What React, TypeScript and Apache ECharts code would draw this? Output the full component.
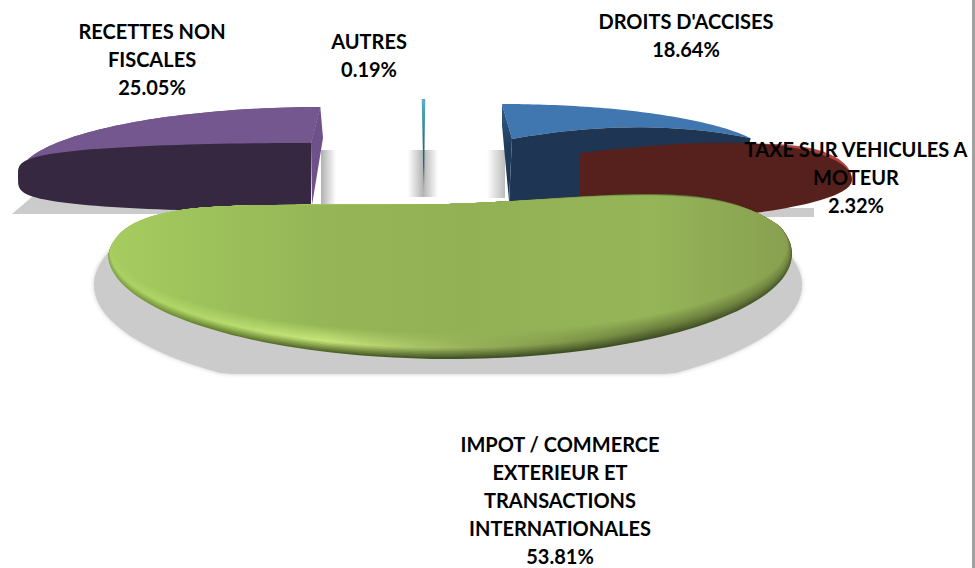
import React, { useEffect, useRef } from "react";
import * as echarts from "echarts";

// Chart data: pie order, clockwise from 12 o'clock
const categories = ["DROITS D'ACCISES", "TAXE SUR VEHICULES A MOTEUR", "IMPOT / COMMERCE EXTERIEUR ET TRANSACTIONS INTERNATIONALES", "RECETTES NON FISCALES", "AUTRES"];
const values = [18.64, 2.32, 53.81, 25.05, 0.19];
const labelLines = [["DROITS D'ACCISES"], ["TAXE SUR VEHICULES A", "MOTEUR"], ["IMPOT / COMMERCE", "EXTERIEUR ET", "TRANSACTIONS", "INTERNATIONALES"], ["RECETTES NON", "FISCALES"], ["AUTRES"]];

const total = values.reduce((a, b) => a + b, 0);
const startAngles = values.map((_, i) => (values.slice(0, i).reduce((a, b) => a + b, 0) / total) * 360);
const rad = (d: number) => (d * Math.PI) / 180;

type Pt = [number, number];
// rim point, angle clockwise from 12 o'clock
const ell = (cx: number, cy: number, rx: number, ry: number, t: number): Pt => [cx + rx * Math.sin(rad(t)), cy - ry * Math.cos(rad(t))];
const rim = (cx: number, cy: number, rx: number, ry: number, a0: number, a1: number, n = 60): Pt[] => {
  const out: Pt[] = [];
  for (let i = 0; i <= n; i++) out.push(ell(cx, cy, rx, ry, a0 + ((a1 - a0) * i) / n));
  return out;
};
const d = (pts: Pt[], close = true) => "M" + pts.map((p) => p[0].toFixed(1) + " " + p[1].toFixed(1)).join("L") + (close ? "Z" : "");
const grad = (x2: number, y2: number, stops: [number, string][], x = 0, y = 0) => ({ type: "linear", x, y, x2, y2, colorStops: stops.map(([offset, color]) => ({ offset, color })) });
const path = (pathData: string, style: any, extra: any = {}) => ({ type: "path", shape: { pathData }, style, ...extra });
const softRect = (x: number, y: number, width: number, height: number, fill: any) => ({ type: "rect", shape: { x, y, width, height }, style: { fill } });

const GREY = "#cbcbcb";

// superellipse quarter going from the tip of a dark face to the top of its straight edge
const quarter = (cx: number, cy: number, rx: number, ry: number, dir: number, p: number, skew = 0): Pt[] => {
  const out: Pt[] = [];
  for (let i = 0; i <= 40; i++) {
    const a = (i / 40) * 90;
    out.push([cx + dir * rx * Math.cos(rad(a)), cy - ry * Math.pow(Math.sin(rad(a)), p) - skew * Math.sin(rad(2 * a))]);
  }
  return out;
};

function drawDroits(a0: number, a1: number) {
  const r = rim(502, 160, 270, 56, a0, a1);
  const tip = r[r.length - 1];
  const apex: Pt = [512, 139];
  const edge: Pt[] = [];
  for (let i = 0; i <= 30; i++) {
    const t = i / 30;
    edge.push([(1 - t) * (1 - t) * apex[0] + 2 * t * (1 - t) * 640 + t * t * tip[0], (1 - t) * (1 - t) * apex[1] + 2 * t * (1 - t) * 116 + t * t * tip[1]]);
  }
  return [
    softRect(487, 150, 18, 48, grad(1, 0, [[0, "#ffffff"], [1, "#bcbcbc"]])),
    path(d([...r, ...edge.slice().reverse()]), { fill: "#4177b0" }),
    path(d([r[0], [502, 125], [509, 201], apex]), { fill: grad(0, 1, [[0, "#2f5f90"], [0.45, "#1f3a5a"], [1, "#1e3553"]]) }),
    path(d([...edge, [tip[0] - 20, 215], [509, 204]]), { fill: "#1e3553" }),
  ];
}

function drawTaxe() {
  // the slice sits in front of the others and is strongly magnified by the perspective
  const top = quarter(580, 180, 272, 27, 1, 1, 16).reverse();
  const bottom = quarter(580, 180, 272, 43, 1, 1).map(([x, y]) => [x, 360 - y] as Pt);
  const lip = top.slice(18).map(([x, y], i, arr) => [x, y - 3.5 * Math.sin((i / (arr.length - 1)) * Math.PI)] as Pt);
  return [
    softRect(758, 208, 56, 9, GREY),
    path(d(lip), { fill: "#b3453f" }),
    path(d([...top, ...bottom]), { fill: "#56211d" }),
  ];
}

const greenPath = (a0: number, a1: number) => {
  const pts = rim(450, 254, 342, 105, a0, a1, 90);
  const first = pts[0];
  return d(pts, false) +
    ` C112 228 150 214 190 209 C260 202 370 206 448 204 C520 202 590 194 646 194 C700 194 745 200 ${first[0].toFixed(1)} ${first[1].toFixed(1)}Z`;
};

const hex = (c: string) => [1, 3, 5].map((k) => parseInt(c.slice(k, k + 2), 16));
const mix = (a: string, b: string, t: number) => {
  const A = hex(a);
  const B = hex(b);
  return "rgb(" + A.map((v, i) => Math.round(v + (B[i] - v) * t)).join(",") + ")";
};
// bevel colours from the outer edge, through the highlight, to the face, across the slice
const bevelStops: [number, string, string, string][] = [
  [0, "#80a046", "#a9d062", "#a6cc60"],
  [0.14, "#66832f", "#b4d96a", "#9dc15b"],
  [0.32, "#4f6428", "#c6e67a", "#95b556"],
  [0.52, "#3f5024", "#98b35a", "#92b155"],
  [0.8, "#3f4f25", "#6d813d", "#95b558"],
  [1, "#4a5a2c", "#6f8340", "#88a050"],
];
const LAYERS = 18;
const HIGHLIGHT_AT = 0.4;

function drawImpot(a0: number, a1: number) {
  const shade = rim(448, 285, 354, 115, 60, 300, 90).map(([x, y]) => [x, Math.min(y, 374)] as Pt);
  const outline = greenPath(a0, a1);
  const layers = [];
  for (let k = 0; k < LAYERS; k++) {
    const t = k / (LAYERS - 1);
    const stops = bevelStops.map(([o, outer, high, face]) => {
      const c = t < HIGHLIGHT_AT ? mix(outer, high, t / HIGHLIGHT_AT) : mix(high, face, (t - HIGHLIGHT_AT) / (1 - HIGHLIGHT_AT));
      return [o, c] as [number, string];
    });
    layers.push(
      path(outline, { fill: grad(1, 0, stops) }, {
        originX: 450,
        originY: 205,
        scaleX: 1 - 0.014 * t,
        scaleY: 1 - 0.17 * t,
      })
    );
  }
  return [path(d(shade), { fill: GREY, shadowBlur: 4, shadowColor: GREY }), ...layers];
}

function drawRecettes(a0: number, a1: number) {
  const r = rim(324, 177, 306, 70, a0, a1);
  const apex: Pt = [311, 143];
  const top = quarter(311, 177, 293, 34, -1, 0.5).reverse();
  const bottom = quarter(311, 177, 293, 35, -1, 0.5).map(([x, y]) => [x, 354 - y] as Pt);
  return [
    path(d([[33, 196], [212, 196], [212, 214], [12, 214]]), { fill: GREY }),
    softRect(321, 150, 15, 54, grad(1, 0, [[0, "#b0b0b0"], [1, "#ffffff"]])),
    path(d([...r, apex]), { fill: "#75578f" }),
    path(d([...r, ...top]), { fill: "#75578f" }),
    path(d([r[r.length - 1], [323, 138], [312, 205], apex]), { fill: "#6d5188" }),
    path(d([...top, ...bottom]), { fill: "#352840" }),
  ];
}

function drawAutres(a0: number, a1: number) {
  const r = rim(423.5, 177, 300, 78, -(a1 - a0) / 2, (a1 - a0) / 2, 2);
  return [
    softRect(408, 150, 30, 47, grad(1, 0, [[0, "#ffffff"], [0.5, "#b4b4b4"], [1, "#ffffff"]])),
    path(d([...r, [424.6, 140], [424, 197], [422.6, 140]]), { fill: grad(0, 1, [[0, "#5fb0c4"], [0.4, "#2b7c8d"], [0.7, "#1c4f5c"], [1, "#9ab0b5"]]) }),
  ];
}

const drawers: ((a0: number, a1: number) => any[])[] = [drawDroits, drawTaxe, drawImpot, drawRecettes, drawAutres];
// back to front
const paintOrder = [4, 3, 0, 1, 2];
const labelCentres: { x: number; y: number }[] = [
  { x: 686, y: 21 },
  { x: 856, y: 149 },
  { x: 560, y: 444 },
  { x: 152, y: 31 },
  { x: 369, y: 41 },
];
const LINE_GAP = 28;

function renderItem(_params: any, api: any) {
  const i = api.value(1) as number;
  const value = api.value(0) as number;
  const a0 = startAngles[i];
  const a1 = a0 + (value / total) * 360;
  return { type: "group", children: drawers[i](a0, a1) };
}

function renderLabel(_params: any, api: any) {
  const i = api.value(1) as number;
  const value = api.value(0) as number;
  const lines = [...labelLines[i], value.toFixed(2) + "%"];
  const c = labelCentres[i];
  return {
    type: "group",
    children: lines.map((text, k) => ({
      type: "text",
      x: c.x,
      y: c.y + k * LINE_GAP,
      style: { text, fill: "#000000", font: "bold 20px Lato", align: "center", verticalAlign: "middle" },
    })),
  };
}

export default function App() {
  const ref = useRef<HTMLDivElement>(null);
  useEffect(() => {
    const chart = echarts.init(ref.current!, undefined, { renderer: "svg" });
    const seriesData = paintOrder.map((i) => ({ name: categories[i], value: [values[i], i] }));
    chart.setOption({
      animation: false,
      backgroundColor: "#ffffff",
      series: [
        { type: "custom", coordinateSystem: "none", renderItem, data: seriesData, silent: true, z: 2 },
        { type: "custom", coordinateSystem: "none", renderItem: renderLabel, data: seriesData, silent: true, z: 5 },
      ],
      graphic: [{ type: "rect", shape: { x: 972, y: 0, width: 3, height: 568 }, style: { fill: "#a0a0a0" }, z: 10 }],
    });
    return () => chart.dispose();
  }, []);
  return <div ref={ref} style={{ position: "fixed", left: 0, top: 0, width: 975, height: 568 }} />;
}
